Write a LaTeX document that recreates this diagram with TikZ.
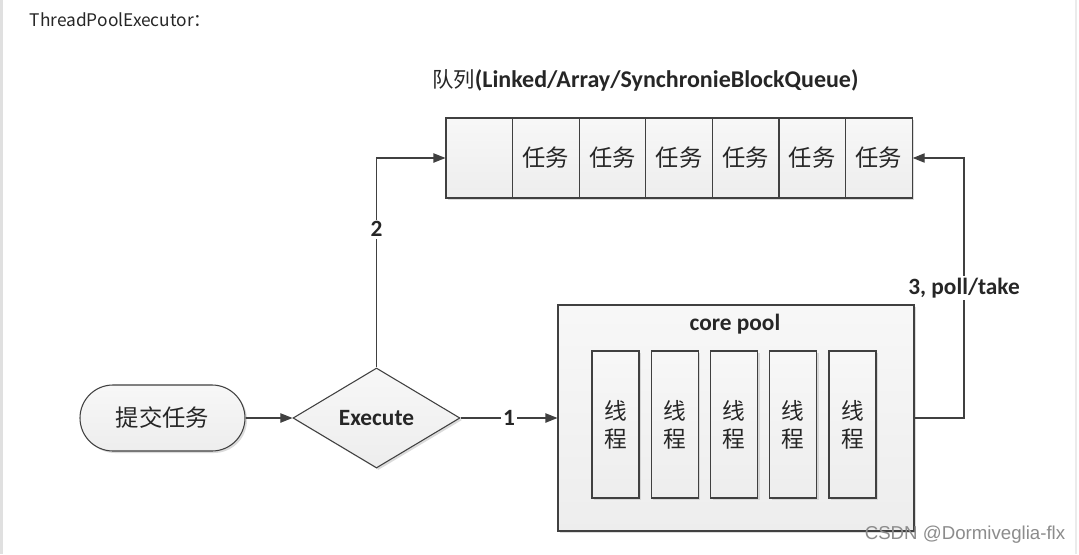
\documentclass[tikz,border=0pt]{standalone}
\usepackage{fontspec}
\setmainfont{Carlito}
\newfontfamily\cjk{Noto Sans CJK SC}
\newfontfamily\wmfont{Liberation Sans}
\usetikzlibrary{shapes.geometric, arrows.meta, shadows}

\begin{document}
\begin{tikzpicture}[
            x=0.75pt, y=-0.75pt,
            every node/.style={text=black!85}, % Dark text everywhere
            box/.style={draw=black!75, line width=0.8pt, top color=white!97!black, bottom color=black!7,
                        drop shadow={shadow xshift=1.5pt, shadow yshift=-1.5pt, fill=black!20, opacity=0.7}},
            cell/.style={box, minimum width=49.95pt, minimum height=60pt, inner sep=0pt, font=\cjk\fontsize{17.5}{20}\selectfont},
            thread/.style={box, minimum width=35.25pt, minimum height=110.25pt, inner sep=0pt, align=center,
                           font=\cjk\fontsize{17}{21}\selectfont},
            flow/.style={draw=black!75, line width=0.8pt, -{Triangle[length=9pt, width=7pt]}},
            tag/.style={fill=white, inner sep=1.5pt, font=\bfseries\fontsize{17.5}{19}\selectfont}
            ]

        % Page with its light side rules
        \fill[white] (0,0) rectangle (1079,554);
        \useasboundingbox (0,0) rectangle (1079,554);
        \draw[black!12, line width=1.5pt] (1.5,0) -- (1.5,554);
        \draw[black!8, line width=1pt] (1076,0) -- (1076,554);

        \node[anchor=west, font=\cjk\fontsize{13}{15}\selectfont] (title) at (25,20) {ThreadPoolExecutor：};

        % The queue
        \node[anchor=west, inner sep=0pt] (qname) at (432,80)
            {{\cjk\fontsize{16}{18}\selectfont 队列}{\bfseries\fontsize{18}{20}\selectfont(Linked/Array/SynchronieBlockQueue)}};
        \node[cell] (cell0) at (479.3,158) {};
        \foreach \i in {1,...,6}
            \node[cell] (cell\i) at (479.3+66.6*\i,158) {任务};

        % Submit and decide
        \node[box, rounded corners=24.75pt, minimum width=123.75pt, minimum height=49.5pt,
              font=\cjk\fontsize{17.5}{20}\selectfont] (submit) at (162.5,418) {提交任务};
        \node[box, diamond, aspect=1.67, minimum width=125.25pt, minimum height=75pt, inner sep=0pt,
              font=\bfseries\fontsize{17.5}{20}\selectfont] (exec) at (376.5,418) {Execute};

        % Core pool with its threads
        \node[box, minimum width=267pt, minimum height=169.5pt] (pool) at (736,418) {};
        \node[font=\bfseries\fontsize{17.5}{20}\selectfont] (poolname) at (735,324) {core pool};
        \foreach \i in {0,...,4}
            \node[thread] (thr\i) at (615.5+59.25*\i,424.5) {线\\程};

        % Connectors
        \draw[flow] (submit) -- (exec);
        \draw[flow] (exec) -- node[tag] {1} (pool);
        \draw[flow] (exec.north) |- node[tag, pos=0.33] {2} (cell0.west);
        \coordinate (turn) at (964,418);
        \draw[flow] (pool.east) -- (turn) |- node[tag, pos=0.25] {3, poll/take} (cell6.east);

        \node[text=black!45, font=\wmfont\fontsize{14}{16}\selectfont] (mark) at (965,535) {CSDN @Dormiveglia-flx};

\end{tikzpicture}
\end{document}
